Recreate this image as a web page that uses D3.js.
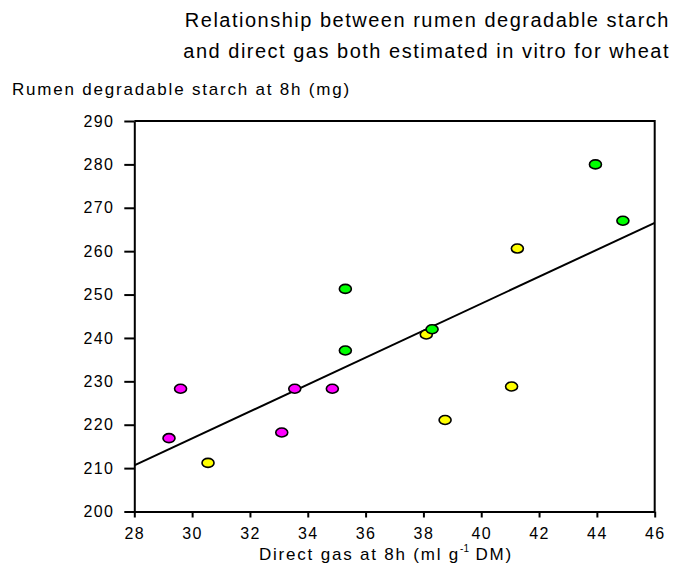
<!DOCTYPE html>
<html lang="en">
<head>
    <meta charset="UTF-8">
    <title>Rumen degradable starch vs direct gas</title>
    <script src="https://cdnjs.cloudflare.com/ajax/libs/d3/7.8.5/d3.min.js"></script>
    <style>
        body {
            margin: 0;
            background: #fff;
            font-family: "Liberation Sans", Arial, sans-serif;
        }
        .title {
            font-size: 20px;
            letter-spacing: 1.5px;
            text-anchor: end;
        }
        .axis-label {
            font-size: 17px;
            letter-spacing: 1.8px;
        }
        .tick-label {
            font-size: 16px;
            letter-spacing: 1.4px;
        }
        .dot {
            stroke: #000;
            stroke-width: 1.6;
        }
    </style>
</head>
<body>
    <div id="chart"></div>

    <script>
        // Data: direct gas (x) and starch (y), by group
        const magentaX = [29.2, 29.6, 33.1, 33.55, 34.85];
        const magentaY = [216.9, 228.3, 218.2, 228.3, 228.3];
        const yellowX = [30.55, 38.1, 38.75, 41.05, 41.25];
        const yellowY = [211.2, 240.8, 221.1, 228.8, 260.6];
        const greenX = [35.3, 35.3, 38.3, 43.95, 44.9];
        const greenY = [251.3, 237.1, 242.0, 280.0, 267.0];

        // Fitted line: starch = intercept + slope * gas
        const fitIntercept = 123.7;
        const fitSlope = 3.105;

        const xTicks = [28, 30, 32, 34, 36, 38, 40, 42, 44, 46];
        const yTicks = [200, 210, 220, 230, 240, 250, 260, 270, 280, 290];

        const titleLines = [
            "Relationship between rumen degradable starch",
            "and direct gas both estimated in vitro for wheat"
        ];

        const series = [
            {x: magentaX, y: magentaY, color: "#ff00ff"},
            {x: yellowX, y: yellowY, color: "#ffff00"},
            {x: greenX, y: greenY, color: "#00ff00"}
        ];

        const W = 680, H = 574;
        const margin = {top: 121, right: 25.3, bottom: 62.5, left: 134.3};
        const width = W - margin.left - margin.right;
        const height = H - margin.top - margin.bottom;

        const root = d3.select("#chart")
            .append("svg")
            .attr("width", W)
            .attr("height", H);

        const svg = root.append("g")
            .attr("transform", `translate(${margin.left},${margin.top})`);

        const x = d3.scaleLinear().domain([28, 46]).range([0, width]);
        const y = d3.scaleLinear().domain([200, 290]).range([height, 0]);

        // Title, right aligned
        root.selectAll(".title")
            .data(titleLines)
            .join("text")
            .attr("class", "title")
            .attr("x", 670)
            .attr("y", (d, i) => 27 + i * 31)
            .text(d => d);

        // Y axis title, above the axis
        root.append("text")
            .attr("class", "axis-label")
            .attr("x", 12)
            .attr("y", 95)
            .text("Rumen degradable starch at 8h (mg)");

        // Box (top and right)
        svg.append("path")
            .attr("d", `M0,0H${width}V${height}`)
            .attr("fill", "none")
            .attr("stroke", "#000")
            .attr("stroke-width", 2);

        // Axes
        const xAxis = svg.append("g")
            .attr("transform", `translate(0,${height})`)
            .call(d3.axisBottom(x).tickValues(xTicks).tickSize(6).tickSizeOuter(0).tickPadding(10));

        const yAxis = svg.append("g")
            .call(d3.axisLeft(y).tickValues(yTicks).tickSize(10).tickSizeOuter(0).tickPadding(10));

        [xAxis, yAxis].forEach(g => {
            g.select(".domain").attr("stroke-width", 2);
            g.selectAll(".tick line").attr("stroke-width", 2);
            g.selectAll(".tick text")
                .attr("class", "tick-label")
                .attr("fill", "#000")
                .style("font-family", "'Liberation Sans', Arial, sans-serif");
        });

        // X axis title with superscript
        const xt = root.append("text")
            .attr("class", "axis-label")
            .attr("x", 386)
            .attr("y", 560)
            .attr("text-anchor", "middle");
        xt.append("tspan").text("Direct gas at 8h (ml g");
        xt.append("tspan").attr("dx", 0).attr("dy", -8).style("font-size", "10px").style("letter-spacing", "0px").text("-1");
        xt.append("tspan").attr("dy", 8).text(" DM)");

        // Regression line
        const fit = v => fitIntercept + fitSlope * v;
        svg.append("line")
            .attr("x1", x(28)).attr("y1", y(fit(28)))
            .attr("x2", x(46)).attr("y2", y(fit(46)))
            .attr("stroke", "#000")
            .attr("stroke-width", 2);

        // Points
        series.forEach(s => {
            svg.append("g")
                .selectAll("ellipse")
                .data(d3.range(s.x.length))
                .join("ellipse")
                .attr("class", "dot")
                .attr("cx", i => x(s.x[i]))
                .attr("cy", i => y(s.y[i]))
                .attr("rx", 6)
                .attr("ry", 4.5)
                .attr("fill", s.color);
        });
    </script>
</body>
</html>
